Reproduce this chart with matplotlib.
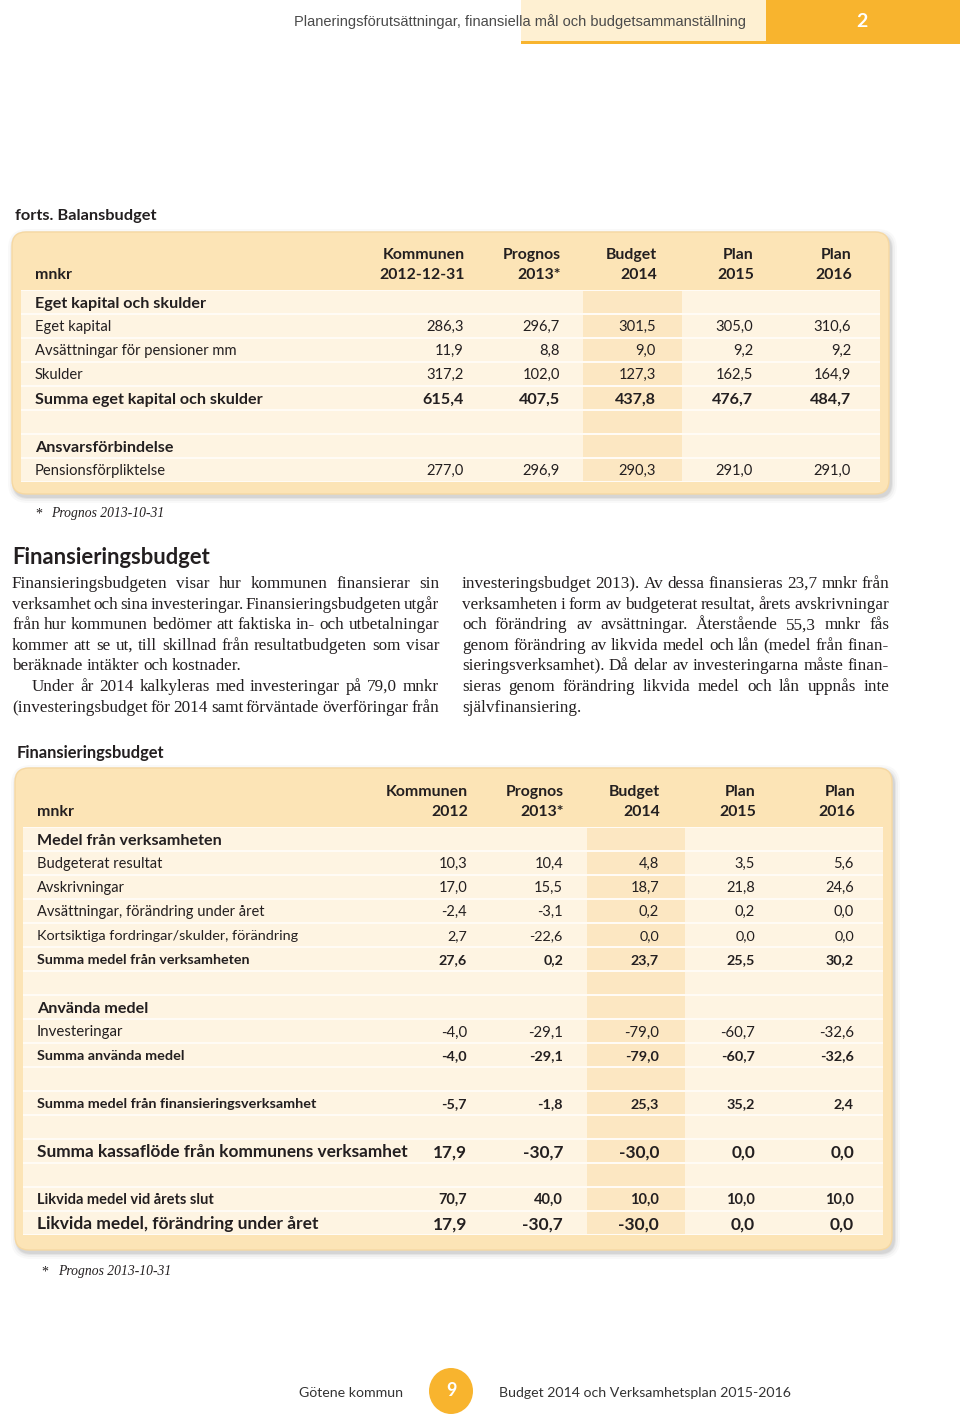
import matplotlib
matplotlib.use("Agg")
import matplotlib.pyplot as plt
from matplotlib.patches import FancyBboxPatch, Rectangle, Ellipse

# ---- page texts ----
header_title = "Planeringsförutsättningar, finansiella mål och budgetsammanställning"
chapter_no = "2"
page_no = "9"
footer_left = "Götene kommun"
footer_right = "Budget 2014 och Verksamhetsplan 2015-2016"
footnote = "Prognos 2013-10-31"

# ---- Balansbudget (forts.) ----
bal_title = "forts. Balansbudget"
bal_columns = [("Kommunen", "2012-12-31"), ("Prognos", "2013*"), ("Budget", "2014"),
               ("Plan", "2015"), ("Plan", "2016")]
bal_labels = ["Eget kapital och skulder", "Eget kapital", "Avsättningar för pensioner mm",
              "Skulder", "Summa eget kapital och skulder", "", "Ansvarsförbindelse",
              "Pensionsförpliktelse"]
bal_kommunen = [None, 286.3, 11.9, 317.2, 615.4, None, None, 277.0]
bal_prognos = [None, 296.7, 8.8, 102.0, 407.5, None, None, 296.9]
bal_budget = [None, 301.5, 9.0, 127.3, 437.8, None, None, 290.3]
bal_plan15 = [None, 305.0, 9.2, 162.5, 476.7, None, None, 291.0]
bal_plan16 = [None, 310.6, 9.2, 164.9, 484.7, None, None, 291.0]

# ---- Finansieringsbudget ----
fin_heading = "Finansieringsbudget"
fin_title = "Finansieringsbudget"
fin_columns = [("Kommunen", "2012"), ("Prognos", "2013*"), ("Budget", "2014"),
               ("Plan", "2015"), ("Plan", "2016")]
fin_labels = ["Medel från verksamheten", "Budgeterat resultat", "Avskrivningar",
              "Avsättningar, förändring under året", "Kortsiktiga fordringar/skulder, förändring",
              "Summa medel från verksamheten", "", "Använda medel", "Investeringar",
              "Summa använda medel", "", "Summa medel från finansieringsverksamhet", "",
              "Summa kassaflöde från kommunens verksamhet", "", "Likvida medel vid årets slut",
              "Likvida medel, förändring under året"]
fin_kommunen = [None, 10.3, 17.0, -2.4, 2.7, 27.6, None, None, -4.0, -4.0, None, -5.7, None, 17.9, None, 70.7, 17.9]
fin_prognos = [None, 10.4, 15.5, -3.1, -22.6, 0.2, None, None, -29.1, -29.1, None, -1.8, None, -30.7, None, 40.0, -30.7]
fin_budget = [None, 4.8, 18.7, 0.2, 0.0, 23.7, None, None, -79.0, -79.0, None, 25.3, None, -30.0, None, 10.0, -30.0]
fin_plan15 = [None, 3.5, 21.8, 0.2, 0.0, 25.5, None, None, -60.7, -60.7, None, 35.2, None, 0.0, None, 10.0, 0.0]
fin_plan16 = [None, 5.6, 24.6, 0.0, 0.0, 30.2, None, None, -32.6, -32.6, None, 2.4, None, 0.0, None, 10.0, 0.0]

body_left = [
    "Finansieringsbudgeten visar hur kommunen finansierar sin",
    "verksamhet och sina investeringar. Finansieringsbudgeten utgår",
    "från hur kommunen bedömer att faktiska in- och utbetalningar",
    "kommer att se ut, till skillnad från resultatbudgeten som visar",
    "beräknade intäkter och kostnader.",
    "Under år 2014 kalkyleras med investeringar på 79,0 mnkr",
    "(investeringsbudget för 2014 samt förväntade överföringar från",
]
body_right = [
    "investeringsbudget 2013). Av dessa finansieras 23,7 mnkr från",
    "verksamheten i form av budgeterat resultat, årets avskrivningar",
    "och förändring av avsättningar. Återstående 55,3 mnkr fås",
    "genom förändring av likvida medel och lån (medel från finan-",
    "sieringsverksamhet). Då delar av investeringarna måste finan-",
    "sieras genom förändring likvida medel och lån uppnås inte",
    "självfinansiering.",
]

# ---- styles ----
ORANGE = "#F8B42E"
CREAM = "#FEF0D2"
BOX = "#FCE4B6"
STRIPE = "#FEF4E2"
BUDGET_COL = "#FCE7C2"
INK = "#231F20"
SANS = ["Lato", "Liberation Sans", "DejaVu Sans"]
SERIF = ["Liberation Serif", "DejaVu Serif"]

bal_styles = [("bold", 11.6), ("normal", 10.6), ("normal", 10.6), ("normal", 10.6), ("bold", 11.6),
              ("normal", 10.6), ("bold", 11.6), ("normal", 10.6)]
fin_styles = [("bold", 11.6), ("normal", 10.5), ("normal", 10.5), ("normal", 10.5), ("normal", 10.4),
              ("bold", 10.3), ("normal", 10.5), ("bold", 11.6), ("normal", 10.8), ("bold", 10.4),
              ("normal", 10.5), ("bold", 10.4), ("normal", 10.5), ("bold", 12.4), ("normal", 10.5),
              ("bold", 10.5), ("bold", 12.5)]


def fmt(v):
    return "" if v is None else f"{v:.1f}".replace(".", ",")


def base(y, fs):
    # baseline position for text visually centred on y
    return y + 0.5 * fs


fig = plt.figure(figsize=(9.6, 14.19), dpi=100)
ax = fig.add_axes([0, 0, 1, 1])
ax.set_xlim(0, 960)
ax.set_ylim(1419, 0)
ax.axis("off")
renderer = fig.canvas.get_renderer()

# header band
ax.add_patch(Rectangle((521, 0), 245, 42, fc=CREAM, ec="none"))
ax.add_patch(Rectangle((521, 41), 245, 2.5, fc=ORANGE, ec="none"))
ax.add_patch(Rectangle((766, 0), 194, 43.5, fc=ORANGE, ec="none"))
ax.text(746, base(21, 10.5), header_title, ha="right", va="baseline", fontsize=10.5,
        family=["Liberation Sans", "DejaVu Sans"], color="#4a4a4a")
ax.text(862, base(20, 14), chapter_no, ha="center", va="baseline", fontsize=14, color="white",
        family=SANS, fontweight="bold")


def draw_box(x0, y0, x1, y1):
    # soft grey shadow built from a few widening transparent boxes
    for g, a in [(6, 0.04), (4, 0.06), (2, 0.09), (1, 0.12)]:
        ax.add_patch(FancyBboxPatch((x0 - g + 2, y0 - g + 3), x1 - x0 + 2 * g, y1 - y0 + 2 * g,
                                    boxstyle=f"round,pad=0,rounding_size={14 + g}",
                                    fc="#6f6f6f", ec="none", alpha=a))
    ax.add_patch(FancyBboxPatch((x0, y0), x1 - x0, y1 - y0,
                                boxstyle="round,pad=0,rounding_size=14",
                                fc=BOX, ec="#F6D8A2", lw=1))


def draw_table(box, stripe_x, budget_x, first_row, head_y, label_x, col_right,
               columns, labels, values, styles):
    draw_box(*box)
    n = len(labels)
    centers = [first_row + 24 * i for i in range(n)]
    ax.add_patch(Rectangle((stripe_x[0], centers[0] - 12), stripe_x[1] - stripe_x[0], 24 * n,
                           fc="#FFFBF5", ec="none"))
    ax.barh(centers, stripe_x[1] - stripe_x[0], left=stripe_x[0], height=22, color=STRIPE)
    ax.barh(centers, budget_x[1] - budget_x[0], left=budget_x[0], height=22, color=BUDGET_COL)
    hfs = 11.4
    ax.text(label_x, base(head_y[1], hfs), "mnkr", ha="left", va="baseline", fontsize=hfs,
            fontweight="bold", family=SANS, color=INK)
    for (top, bottom), xr in zip(columns, col_right):
        ax.text(xr + 1, base(head_y[0], hfs), top, ha="right", va="baseline", fontsize=hfs,
                fontweight="bold", family=SANS, color=INK)
        ax.text(xr + 1, base(head_y[1], hfs), bottom, ha="right", va="baseline", fontsize=hfs,
                fontweight="bold", family=SANS, color=INK)
    for i, (lab, (w, fs)) in enumerate(zip(labels, styles)):
        yb = base(centers[i], fs)
        ax.text(label_x, yb, lab, ha="left", va="baseline", fontsize=fs,
                fontweight=w, family=SANS, color=INK)
        for col, xr in zip(values, col_right):
            ax.text(xr, yb, fmt(col[i]), ha="right", va="baseline", fontsize=fs,
                    fontweight=w, family=SANS, color=INK)


# Balansbudget
ax.text(15, base(214, 11.8), bal_title, ha="left", va="baseline", fontsize=11.8,
        fontweight="bold", family=SANS, color=INK)
draw_table((12, 232, 889, 494), (21, 880), (583, 682), 302, (253, 273), 35,
           [464, 560, 656, 753, 851], bal_columns, bal_labels,
           [bal_kommunen, bal_prognos, bal_budget, bal_plan15, bal_plan16], bal_styles)
ax.text(35, 518, "*", ha="left", va="baseline", fontsize=10, family=SERIF, color=INK)
ax.text(51, 517, footnote, ha="left", va="baseline", fontsize=9.8, family=SERIF,
        style="italic", color=INK)

# heading and body text
ax.text(12, base(556, 15.8), fin_heading, ha="left", va="baseline", fontsize=15.8,
        fontweight="bold", family=SANS, color=INK)


def justify(line, x0, x1, y, last):
    words = line.split()
    arts = [ax.text(0, y + 6, wd, ha="left", va="baseline", fontsize=12.3, family=SERIF,
                    color=INK) for wd in words]
    widths = [a.get_window_extent(renderer).width for a in arts]
    gap = 4.2 if last or len(words) == 1 else (x1 - x0 - sum(widths)) / (len(words) - 1)
    x = x0
    for a, w in zip(arts, widths):
        a.set_x(x)
        x += w + gap


line_y = [582 + 20.6 * i for i in range(7)]
for i, line in enumerate(body_left):
    x0 = 32 if i == 5 else 12
    justify(line, x0, 439, line_y[i], last=(i == 4))
for i, line in enumerate(body_right):
    justify(line, 462, 889, line_y[i], last=(i == 6))

# Finansieringsbudget table
ax.text(17, base(752, 11.9), fin_title, ha="left", va="baseline", fontsize=11.9,
        fontweight="bold", family=SANS, color=INK)
draw_table((15, 768, 892, 1250), (23, 883), (587, 685), 839, (790, 810), 37,
           [467, 563, 659, 755, 854], fin_columns, fin_labels,
           [fin_kommunen, fin_prognos, fin_budget, fin_plan15, fin_plan16], fin_styles)
ax.text(41, 1276, "*", ha="left", va="baseline", fontsize=10, family=SERIF, color=INK)
ax.text(58, 1275, footnote, ha="left", va="baseline", fontsize=9.8, family=SERIF,
        style="italic", color=INK)

# footer
ax.text(403, base(1392, 10.2), footer_left, ha="right", va="baseline", fontsize=10.2,
        family=SANS, color="#333333")
ax.add_patch(Ellipse((451, 1391), 44, 46, fc=ORANGE, ec="none"))
ax.text(451, base(1390, 13), page_no, ha="center", va="baseline", fontsize=13,
        fontweight="bold", family=SANS, color="white")
ax.text(499, base(1392, 10.2), footer_right, ha="left", va="baseline", fontsize=10.2,
        family=SANS, color="#333333")

fig.savefig("out.png", dpi=100, facecolor="white")
